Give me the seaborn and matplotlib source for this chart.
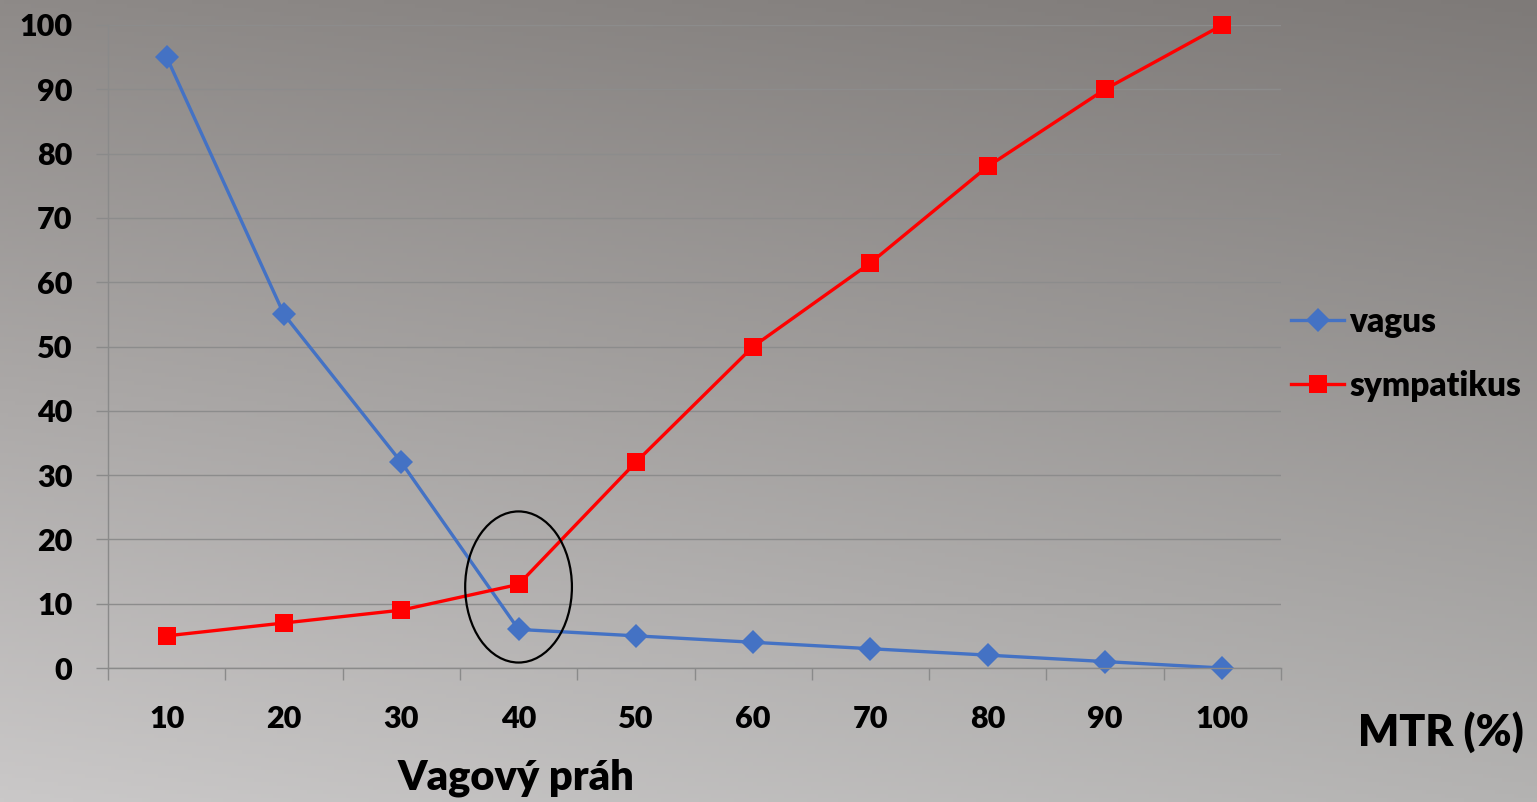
import numpy as np
import pandas as pd
import matplotlib
matplotlib.use("Agg")
import matplotlib.pyplot as plt
from matplotlib.patches import Ellipse
import seaborn as sns

# ---- data ----
mtr = [10, 20, 30, 40, 50, 60, 70, 80, 90, 100]
vagus = [95, 55, 32, 6, 5, 4, 3, 2, 1, 0]
sympatikus = [5, 7, 9, 13, 32, 50, 63, 78, 90, 100]
yticks = [0, 10, 20, 30, 40, 50, 60, 70, 80, 90, 100]

df = pd.DataFrame({
    "MTR": mtr * 2,
    "value": vagus + sympatikus,
    "series": ["vagus"] * len(mtr) + ["sympatikus"] * len(mtr),
})

plt.rcParams["font.family"] = ["Lato", "DejaVu Sans"]
WEIGHT = "heavy"
plt.rcParams["font.weight"] = WEIGHT

W, H = 1537, 802
fig = plt.figure(figsize=(W / 100, H / 100), dpi=100)

# gradient background
bg = fig.add_axes([0, 0, 1, 1], zorder=-10)
tl = np.array([142, 138, 136]) / 255
tr = np.array([126, 122, 120]) / 255
bl = np.array([202, 200, 200]) / 255
br = np.array([180, 179, 178]) / 255
yy, xx = np.mgrid[0:1:200j, 0:1:400j]
img = ((1 - yy)[..., None] * ((1 - xx)[..., None] * tl + xx[..., None] * tr)
       + yy[..., None] * ((1 - xx)[..., None] * bl + xx[..., None] * br))
bg.imshow(img, aspect="auto", extent=[0, 1, 0, 1], origin="upper")
bg.set_axis_off()

ax = fig.add_axes([108 / W, 1 - 668 / H, (1281 - 108) / W, (668 - 25) / H])
ax.set_facecolor("none")

palette = {"vagus": "#4472C4", "sympatikus": "#FF0000"}
sns.lineplot(data=df, x="MTR", y="value", hue="series", style="series",
             palette=palette, markers={"vagus": "D", "sympatikus": "s"},
             dashes=False, markersize=12.5, markeredgewidth=0,
             linewidth=2.4, ax=ax, legend=True, clip_on=False)

ax.set_xlim(5, 105)
ax.set_ylim(0, 100)
ax.set_xticks(mtr)
ax.set_xticks([m - 5 for m in mtr] + [105], minor=True)
ax.set_yticks(yticks)
ax.tick_params(axis="x", which="major", length=0, pad=27, labelsize=22)
ax.tick_params(axis="x", which="minor", length=8.6, width=1, color="#8a8a8a")
ax.tick_params(axis="y", length=8.6, width=1, color="#8a8a8a", pad=17, labelsize=22)
for lab in ax.get_xticklabels() + ax.get_yticklabels():
    lab.set_fontweight(WEIGHT)
ax.grid(axis="y", color="#8c8c8c", linewidth=1)
ax.set_axisbelow(True)
for s in ["top", "right"]:
    ax.spines[s].set_visible(False)
for s in ["left", "bottom"]:
    ax.spines[s].set_color("#8a8a8a")
    ax.spines[s].set_linewidth(1)
ax.set_xlabel("")
ax.set_ylabel("")

# circle marking the vagal threshold
ax.add_patch(Ellipse((40, 12.6), width=9.1, height=23.5, fill=False,
                     edgecolor="black", linewidth=1.6, zorder=5))

handles, labels = ax.get_legend_handles_labels()
ax.legend(handles, labels, loc="center left",
          bbox_to_anchor=(1261 / W, 1 - 354 / H), bbox_transform=fig.transFigure,
          frameon=False, prop={"family": "Lato", "weight": WEIGHT, "size": 24},
          handlelength=1.6, handletextpad=0.15, labelspacing=0.95)

fig.text(1358 / W, 1 - 732 / H, "MTR (%)", fontsize=31, fontweight=WEIGHT,
         ha="left", va="center")
fig.text(516 / W, 1 - 778 / H, "Vagový práh", fontsize=30, fontweight=WEIGHT,
         ha="center", va="center")

fig.savefig("out.png", dpi=100)
